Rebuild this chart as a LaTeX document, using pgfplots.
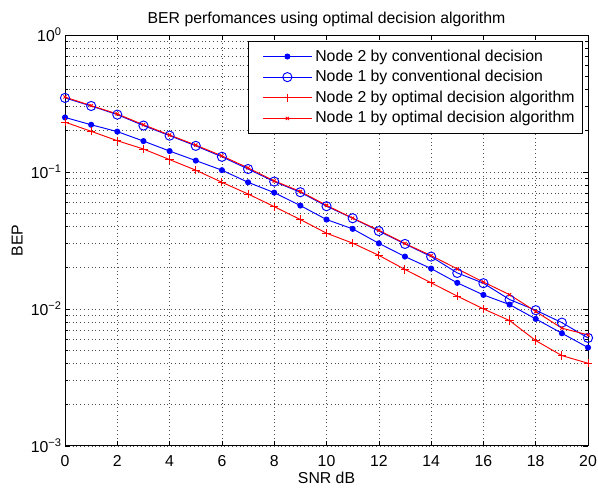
\documentclass[border=0pt]{standalone}
\usepackage{fontspec}
\setmainfont{Liberation Sans}
\usepackage{pgfplots}
\usepackage{pgfplotstable}
\pgfplotsset{compat=1.18}
\usetikzlibrary{calc}

\pgfplotstableread{
x  nconv  oconv  nopt  oopt
0  0.250  0.347  0.231  0.352
1  0.221  0.303  0.198  0.305
2  0.197  0.262  0.169  0.265
3  0.168  0.218  0.147  0.221
4  0.142  0.184  0.123  0.186
5  0.121  0.155  0.103  0.157
6  0.103  0.129  0.084  0.131
7  0.084  0.105  0.069  0.107
8  0.0706 0.0850 0.0558 0.0860
9  0.0568 0.0711 0.0449 0.0720
10 0.0449 0.0562 0.0357 0.0570
11 0.0384 0.0459 0.0302 0.0460
12 0.0301 0.0370 0.0246 0.0375
13 0.0241 0.0298 0.0194 0.0300
14 0.0197 0.0241 0.0155 0.0245
15 0.0155 0.0183 0.0124 0.0196
16 0.01265 0.0154 0.0100 0.0157
17 0.01075 0.0117 0.00822 0.0127
18 0.00845 0.00978 0.00587 0.00957
19 0.00664 0.00794 0.00456 0.00723
20 0.00522 0.00614 0.00401 0.00646
}\datatable

\begin{document}
\begin{tikzpicture}
\begin{axis}[
  scale only axis,
  width=330.7pt, height=259.8pt,
  xmin=0, xmax=20,
  ymode=log, ymin=1e-3, ymax=1,
  xtick={0,2,...,20},
  ytick={1e-3,1e-2,1e-1,1},
  yticklabels={10\textsuperscript{−3},10\textsuperscript{−2},10\textsuperscript{−1},10\textsuperscript{0}},
  /pgf/number format/assume math mode=true,
  xticklabel style={anchor=base, yshift=-13.1pt, inner sep=0pt},
  yticklabel style={xshift=1.5pt},
  tick align=inside,
  major tick length=3.3pt,
  minor tick length=2pt,
  tick style={black, line width=0.4pt},
  axis line style={black, line width=0.5pt},
  xmajorgrids=true, ymajorgrids=true, yminorgrids=true,
  major grid style={dotted, black!70, line width=0.4pt},
  minor grid style={dotted, black!70, line width=0.4pt},
  every axis title shift=0pt,
  title={BER perfomances using optimal decision algorithm},
  title style={at={(axis description cs:0.5,1.0285)}, anchor=base},
  xlabel={SNR dB},
  xlabel style={at={(axis description cs:0.5,-0.0778)}, anchor=center},
  ylabel={BEP},
  ylabel style={at={(axis description cs:-0.0916,0.5)}, anchor=center},
  legend style={at={(1,1)}, anchor=north east, xshift=-3.2pt, yshift=-4.0pt,
    draw=black, line width=0.5pt, font=\normalsize, row sep=0.3pt, inner ysep=3pt},
  legend cell align=left,
  legend image code/.code={\path (-0.2cm,0cm); \draw[mark repeat=2,mark phase=2] plot coordinates {(0cm,0cm) (0.54cm,0cm) (1.08cm,0cm)};},
]
\addplot[blue, line width=0.6pt, mark=*, mark size=1.6pt, mark options={fill=blue}] table[x=x,y=nconv] {\datatable};
\addlegendentry{Node 2 by conventional decision}
\addplot[blue, line width=0.6pt, mark=o, mark size=2.9pt] table[x=x,y=oconv] {\datatable};
\addlegendentry{Node 1 by conventional decision}
\addplot[red, line width=0.6pt, mark=+, mark size=2.6pt] table[x=x,y=nopt] {\datatable};
\addlegendentry{Node 2 by optimal decision algorithm}
\addplot[red, line width=0.6pt, mark=x, mark size=1.4pt] table[x=x,y=oopt] {\datatable};
\addlegendentry{Node 1 by optimal decision algorithm}
\end{axis}
\pgfresetboundingbox
\path[use as bounding box] ($(current axis.south west)+(-41.1pt,-26.5pt)$) rectangle ($(current axis.north east)+(6.3pt,22.1pt)$);
\end{tikzpicture}
\end{document}
